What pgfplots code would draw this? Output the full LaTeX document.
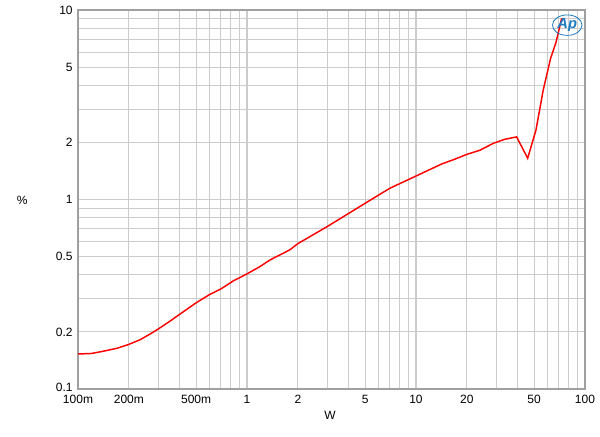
\documentclass[border=0pt]{standalone}
\usepackage{pgfplots}
\pgfplotsset{compat=1.18}
\usetikzlibrary{shapes.geometric}
\usepackage{fontspec}
\setmainfont{Liberation Sans}
\definecolor{gridgray}{RGB}{204,204,204}
\definecolor{framegray}{RGB}{160,160,160}
\definecolor{apblue}{RGB}{30,123,192}
\begin{document}
\begin{tikzpicture}
\useasboundingbox (-58.5pt,-35.25pt) rectangle (391.5pt,291.75pt);
\begin{axis}[
  at={(0,0)}, anchor=south west,
  scale only axis, width=380.25pt, height=284.25pt,
  xmode=log, ymode=log,
  xmin=0.1, xmax=100, ymin=0.1, ymax=10,
  font=\fontsize{9}{10}\selectfont,
  /pgf/number format/assume math mode=true,
  xtick={0.1,0.2,0.5,1,2,5,10,20,50,100},
  xticklabels={100m,200m,500m,1,2,5,10,20,50,100},
  minor xtick={0.3,0.4,0.6,0.7,0.8,0.9,3,4,6,7,8,9,30,40,60,70,80,90},
  ytick={0.1,0.2,0.5,1,2,5,10},
  yticklabels={\raisebox{2pt}{0.1},0.2,0.5,1,2,5,10},
  minor ytick={0.3,0.4,0.6,0.7,0.8,0.9,3,4,6,7,8,9},
  major tick length=0pt, minor tick length=0pt,
  grid=both,
  major grid style={gridgray, line width=0.8pt},
  minor grid style={gridgray, line width=0.8pt},
  axis line style={framegray, line width=0.8pt},
  xticklabel style={yshift=-1.2pt},
  yticklabel style={xshift=-0.5pt},
  xlabel={W}, ylabel={\%},
  xlabel style={at={(rel axis cs:0.497,-0.0686)}, anchor=center},
  ylabel style={at={(rel axis cs:-0.110,0.499)}, anchor=center, rotate=-90},
  clip=false,
]
\addplot[red, line width=1.1pt] coordinates {
(0.1,0.153) (0.12,0.154) (0.14,0.158) (0.17,0.164) (0.2,0.172)
(0.233,0.182) (0.267,0.195) (0.3,0.208) (0.35,0.228) (0.4,0.248)
(0.5,0.285) (0.6,0.315) (0.7,0.337) (0.83,0.372) (1.0,0.405)
(1.19,0.442) (1.37,0.480) (1.79,0.542) (2.0,0.585) (2.97,0.718)
(5.0,0.955) (7.0,1.146) (10,1.33) (14.2,1.54) (16.6,1.62)
(20,1.73) (23.9,1.82) (28.7,1.98) (33.6,2.08) (39.4,2.14)
(45.8,1.65) (51.3,2.33) (56.6,3.78) (62.6,5.56) (67.3,6.72) (72.8,9.04)
};
\node[apblue, font=\fontsize{11}{11}\selectfont\bfseries\itshape, draw=apblue, ellipse, inner sep=0.5pt, line width=0.6pt] at (rel axis cs:0.965,0.96) {Ap};
\end{axis}
\end{tikzpicture}
\end{document}
